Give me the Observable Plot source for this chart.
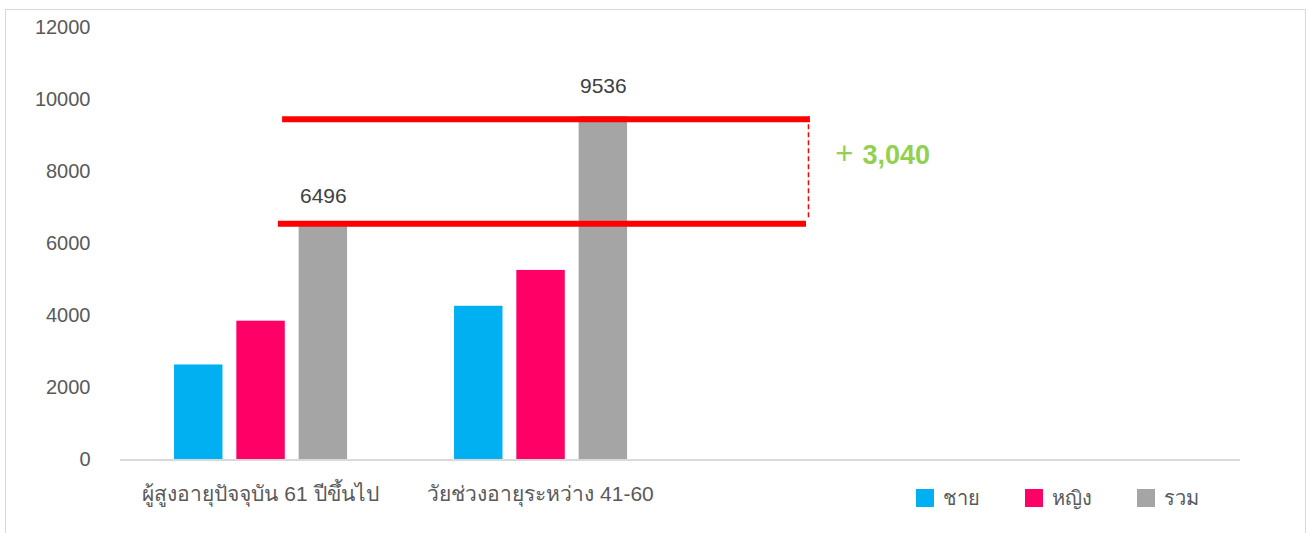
<!DOCTYPE html>
<html>
<head>
<meta charset="utf-8">
<script src="https://cdn.jsdelivr.net/npm/d3@7"></script>
<script src="https://cdn.jsdelivr.net/npm/@observablehq/plot@0.6"></script>
<style>
  html, body { margin: 0; padding: 0; background: #fff; }
  body { width: 1309px; height: 533px; overflow: hidden; position: relative;
         font-family: "Liberation Sans", Arial, "Noto Sans", sans-serif; }
  #frame { position: absolute; left: 5px; top: 9px; width: 1301px; height: 600px;
           border: 1.5px solid #d9d9d9; box-sizing: border-box; }
  #chart { position: absolute; left: 0; top: 0; }
  #legend { position: absolute; left: 916px; top: 482px; display: flex; gap: 45px;
            font-size: 20px; color: #595959; align-items: center; }
  .item { display: flex; align-items: center; gap: 9px; }
  .sw { width: 18px; height: 18px; display: inline-block; }
</style>
</head>
<body>
<div id="frame"></div>
<div id="chart"></div>
<div id="legend"></div>
<script>
// ---- data ----
const categories = ["ผู้สูงอายุปัจจุบัน 61 ปีขึ้นไป", "วัยช่วงอายุระหว่าง 41-60"];
const series = ["ชาย", "หญิง", "รวม"];
const male = [2640, 4270];
const female = [3856, 5266];
const total = [6496, 9536];
const seriesColors = ["#00B0F0", "#FF0066", "#A5A5A5"];
const yTicks = [0, 2000, 4000, 6000, 8000, 10000, 12000];
const bandCount = 4; // two filled category slots + two empty slots on the axis

// ---- build rows ----
const valuesBySeries = [male, female, total];
const rows = [];
categories.forEach((c, i) => {
  series.forEach((s, j) => {
    rows.push({cat: c, ci: i, series: s, sj: j, value: valuesBySeries[j][i]});
  });
});

// layout within a category band (fractions of band)
const groupOffset = 0.193, barWidth = 0.173, barStep = 0.2225;
const bx1 = d => d.ci + groupOffset + d.sj * barStep;
const bx2 = d => bx1(d) + barWidth;

const totals = rows.filter(d => d.series === "รวม");
const hi = total[1], lo = total[0];
const diff = hi - lo;

const levelLines = [
  {y: hi, x1: 0.579, x2: 2.464, dy: 2.5},
  {y: lo, x1: 0.564, x2: 2.45, dy: -2.3}
];

const chart = Plot.plot({
  width: 1309,
  height: 533,
  marginLeft: 120,
  marginRight: 69,
  marginTop: 27.5,
  marginBottom: 73.5,
  style: {color: "#595959", fontFamily: "'Liberation Sans', Arial, 'Noto Sans', sans-serif", background: "transparent"},
  x: {type: "linear", domain: [0, bandCount], axis: null},
  y: {domain: [0, 12000], axis: null},
  color: {domain: series, range: seriesColors},
  marks: [
    Plot.axisY({ticks: yTicks, tickSize: 0, tickPadding: 30, fontSize: 20, label: null, tickFormat: d => String(d)}),
    Plot.axisX({ticks: categories.map((c, i) => i + 0.5), tickFormat: d => categories[Math.floor(d)],
                tickSize: 0, tickPadding: 26, fontSize: 21, label: null}),
    Plot.rectY(rows, {x1: bx1, x2: bx2, y1: 0, y2: "value", fill: "series"}),
    Plot.ruleY([0], {stroke: "#D9D9D9", strokeWidth: 2}),
    Plot.text(totals, {x: d => (bx1(d) + bx2(d)) / 2, y: "value", text: d => String(d.value),
                       dy: -30, fontSize: 21, fill: "#404040", lineAnchor: "middle"}),
    // annotation: difference between the two totals
    ...levelLines.map(l => Plot.ruleY([l.y], {x1: l.x1, x2: l.x2, stroke: "#FF0000", strokeWidth: 6, dy: l.dy})),
    Plot.ruleX([2.457], {y1: hi, y2: lo, stroke: "#FF0000", strokeWidth: 1.5, strokeDasharray: "5,3", insetBottom: 8}),
    Plot.text(["+"], {x: 2.553, y: (hi + lo) / 2, text: d => d, textAnchor: "start", dy: -17,
                      fontSize: 31, fill: "#92D050", lineAnchor: "middle"}),
    Plot.text([diff], {x: 2.65, y: (hi + lo) / 2, text: d => d3.format(",")(d), textAnchor: "start", dy: -16,
                       fontSize: 27, fontWeight: "bold", fill: "#92D050", lineAnchor: "middle"})
  ]
});
document.getElementById("chart").appendChild(chart);

// ---- legend ----
const legend = d3.select("#legend");
series.forEach((s, j) => {
  const it = legend.append("div").attr("class", "item");
  it.append("span").attr("class", "sw").style("background", seriesColors[j]);
  it.append("span").text(s);
});
</script>
</body>
</html>
